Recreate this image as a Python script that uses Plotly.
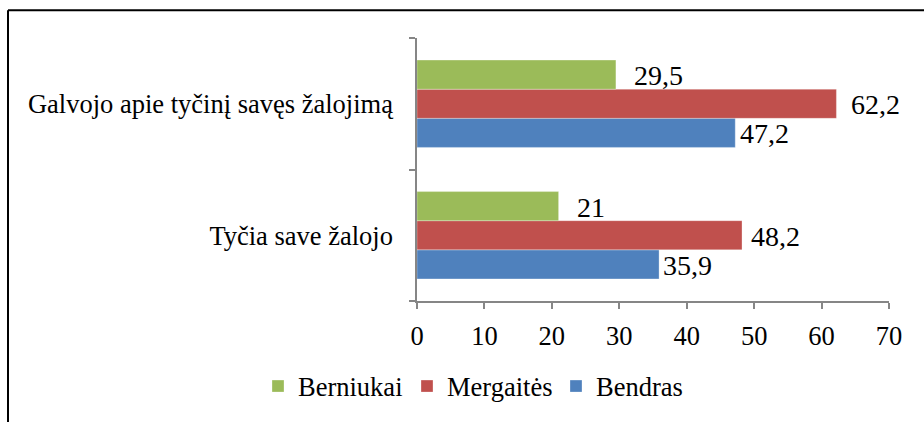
import plotly.graph_objects as go

# ---- data ----
categories = ["Tyčia save žalojo", "Galvojo apie tyčinį savęs žalojimą"]
series_names = ["Bendras", "Mergaitės", "Berniukai"]
bendras = [35.9, 47.2]
mergaites = [48.2, 62.2]
berniukai = [21, 29.5]
value_labels = {
    "Bendras": ["35,9", "47,2"],
    "Mergaitės": ["48,2", "62,2"],
    "Berniukai": ["21", "29,5"],
}
x_ticks = [0, 10, 20, 30, 40, 50, 60, 70]

# ---- styles ----
colors = {"Bendras": "#4F81BD", "Mergaitės": "#C0504D", "Berniukai": "#9BBB59"}
FONT = "Liberation Serif"
W, H = 924, 422
L, R, T, B = 417, 889, 38, 303  # plot area in px
BARGAP = 0.336
label_xshift = {"Bendras": [2, 3], "Mergaitės": [7, 13], "Berniukai": [16, 16]}

values = {"Bendras": bendras, "Mergaitės": mergaites, "Berniukai": berniukai}

fig = go.Figure()
for name in series_names:
    fig.add_trace(go.Bar(
        y=categories, x=values[name], name=name, orientation="h",
        marker=dict(color=colors[name], line=dict(color="rgba(255,255,255,0.6)", width=0.5)),
        hoverinfo="x+name",
    ))

# data labels
bar_w = (1 - BARGAP) / len(series_names)
annotations = []
for si, name in enumerate(series_names):
    offset = (si - (len(series_names) - 1) / 2) * bar_w
    for ci, v in enumerate(values[name]):
        annotations.append(dict(
            x=v, y=ci + offset, xref="x", yref="y", text=value_labels[name][ci],
            showarrow=False, xanchor="left", yanchor="middle",
            xshift=label_xshift[name][ci], yshift=-1,
            font=dict(family=FONT, size=28, color="#000000"),
        ))


def px_x(p):
    return (p - L) / (R - L)


def px_y(p):
    return (B - p) / (B - T)


# outer frame (left and top edges visible)
shapes = [
    dict(type="line", xref="paper", yref="paper", x0=px_x(8), x1=px_x(8), y0=px_y(10), y1=px_y(430),
         line=dict(color="#000000", width=2)),
    dict(type="line", xref="paper", yref="paper", x0=px_x(8), x1=px_x(930), y0=px_y(10), y1=px_y(10),
         line=dict(color="#000000", width=2)),
]

fig.update_layout(
    width=W, height=H,
    margin=dict(l=L, r=W - R, t=T, b=H - B, pad=0),
    paper_bgcolor="white", plot_bgcolor="white",
    barmode="group", bargap=BARGAP, bargroupgap=0,
    font=dict(family=FONT, size=26.5, color="#000000"),
    xaxis=dict(
        range=[0, 70], tickvals=x_ticks, ticktext=[str(t) for t in x_ticks],
        showgrid=False, zeroline=False, showline=True, linecolor="#868686", linewidth=1.5,
        ticks="outside", ticklen=6, tickcolor="#868686", tickwidth=1.5,
        tickfont=dict(family=FONT, size=26.5), ticklabelstandoff=4,
    ),
    yaxis=dict(
        type="category", categoryorder="array", categoryarray=categories,
        showgrid=False, zeroline=False, showline=True, linecolor="#868686", linewidth=1.5,
        ticks="outside", ticklen=6, tickcolor="#868686", tickwidth=1.5, tickson="boundaries",
        tickfont=dict(family=FONT, size=26.5), ticklabelstandoff=17,
    ),
    legend=dict(
        orientation="h", traceorder="reversed", x=px_x(258), xanchor="left",
        y=px_y(389), yanchor="middle", font=dict(family=FONT, size=26.5),
        entrywidth=104, entrywidthmode="pixels", itemwidth=30, bgcolor="rgba(0,0,0,0)",
    ),
    annotations=annotations,
    shapes=shapes,
    showlegend=True,
)

fig.write_html(
    "out.html",
    config={"displayModeBar": False},
    post_script="document.body.style.margin='0';document.body.style.padding='0';",
)
